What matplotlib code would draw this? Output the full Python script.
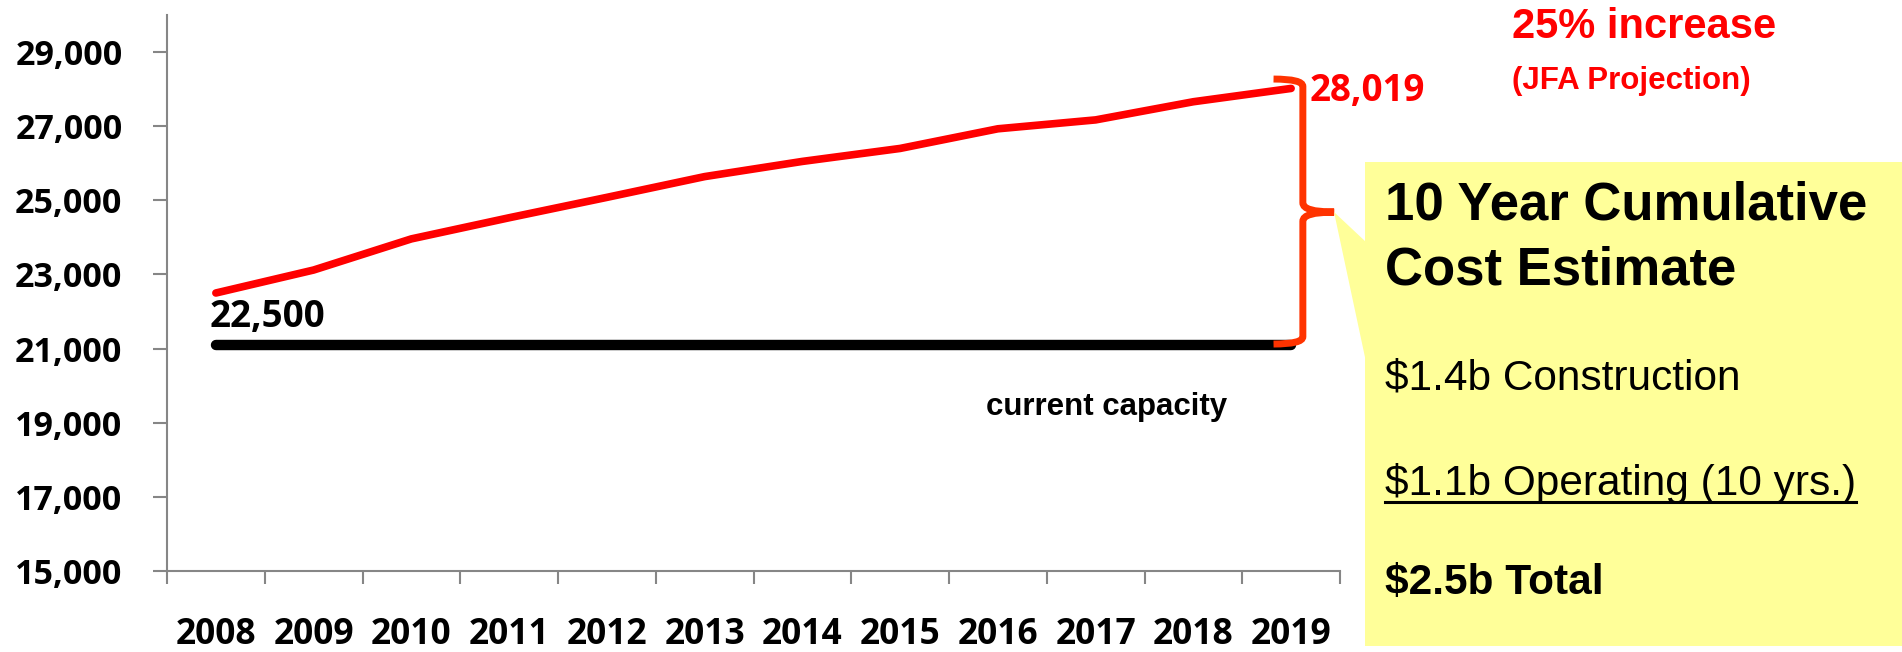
import numpy as np
import matplotlib.pyplot as plt
from matplotlib.path import Path
from matplotlib.patches import PathPatch, Polygon, Rectangle

# ---- Data ----
years = [2008, 2009, 2010, 2011, 2012, 2013, 2014, 2015, 2016, 2017, 2018, 2019]
projected = [22500, 23120, 23960, 24530, 25080, 25640, 26050, 26400, 26930, 27170, 27660, 28019]
capacity = [21100, 21100, 21100, 21100, 21100, 21100, 21100, 21100, 21100, 21100, 21100, 21100]
y_ticks = [15000, 17000, 19000, 21000, 23000, 25000, 27000, 29000]

W, H = 1902, 652
def fx(px):
    return px / W
def fy(py):
    return 1 - py / H

num_font = 'Open Sans'

fig = plt.figure(figsize=(W / 100, H / 100), dpi=100)
ax = fig.add_axes([fx(167), fy(571), fx(1340) - fx(167), fy(15) - fy(571)])

x = np.arange(len(years))
ax.plot(x, capacity, color='black', lw=7.5, solid_capstyle='round', zorder=3)
ax.plot(x, projected, color='red', lw=5.5, solid_capstyle='round', zorder=3)

ax.set_xlim(-0.5, len(years) - 0.5)
ax.set_ylim(15000, 30000)

# ---- Axes styling ----
axis_grey = '#868686'
for s in ['top', 'right']:
    ax.spines[s].set_visible(False)
for s in ['left', 'bottom']:
    ax.spines[s].set_color(axis_grey)
    ax.spines[s].set_linewidth(1.5)

ax.set_yticks(y_ticks)
ax.set_yticklabels([f"{v:,}" for v in y_ticks], fontfamily=num_font, fontweight='bold', fontsize=24.5)
ax.tick_params(axis='y', direction='out', length=10, width=1.5, color=axis_grey, pad=22)

ax.set_xticks(np.arange(-0.5, len(years), 1))
ax.set_xticklabels([])
ax.tick_params(axis='x', which='major', direction='out', length=9, width=1.5, color=axis_grey)
ax.set_xticks(x, minor=True)
ax.set_xticklabels([str(y) for y in years], minor=True, fontfamily=num_font, fontweight='bold', fontsize=25.5)
ax.tick_params(axis='x', which='minor', length=0, pad=33)

# ---- Labels on the chart ----
ax.text(-0.06, 22500 - 1150, f"{projected[0]:,}", fontfamily=num_font, fontweight='bold',
        fontsize=26.5, ha='left', va='bottom', zorder=4)
ax.text(11.19, projected[-1] - 60, f"{projected[-1]:,}", fontfamily=num_font, fontweight='bold',
        fontsize=26.5, color='red', ha='left', va='center', clip_on=False)
fig.text(fx(986), fy(407), "current capacity", fontfamily='Liberation Sans', fontweight='bold',
         fontsize=22.5, ha='left', va='center')

# ---- Brace between capacity and projection ----
brace_col = '#FF3300'
top, bot, mid = 28272, 21123, 24684
bx, lx, tx = 11.12, 10.82, 11.44
verts = [(lx, top), (bx, top), (bx, top - 200), (bx, mid + 250),
         (bx, mid), (tx, mid),
         (bx, mid), (bx, mid - 250), (bx, bot + 200),
         (bx, bot), (lx, bot)]
codes = [Path.MOVETO, Path.CURVE3, Path.CURVE3, Path.LINETO,
         Path.CURVE3, Path.CURVE3,
         Path.CURVE3, Path.CURVE3, Path.LINETO,
         Path.CURVE3, Path.CURVE3]
ax.add_patch(PathPatch(Path(verts, codes), facecolor='none', edgecolor=brace_col,
                       lw=5, clip_on=False, zorder=5, capstyle='butt'))

# ---- Callout box ----
box_col = '#FFFF99'
fig.patches.append(Rectangle((fx(1365), fy(646)), fx(1902) - fx(1365), fy(162) - fy(646),
                             transform=fig.transFigure, facecolor=box_col, edgecolor='none'))
fig.patches.append(Polygon([(fx(1334), fy(212)), (fx(1366), fy(242)), (fx(1366), fy(362))],
                           closed=True, transform=fig.transFigure, facecolor=box_col, edgecolor='none'))

fig.text(fx(1385), fy(206), "10 Year Cumulative", fontfamily='Liberation Sans', fontweight='bold',
         fontsize=38, ha='left', va='center')
fig.text(fx(1385), fy(271), "Cost Estimate", fontfamily='Liberation Sans', fontweight='bold',
         fontsize=38, ha='left', va='center')
fig.text(fx(1385), fy(379), "$1.4b Construction", fontfamily='Liberation Sans',
         fontsize=30.5, ha='left', va='center')
fig.text(fx(1385), fy(483), "$1.1b Operating (10 yrs.)", fontfamily='Liberation Sans',
         fontsize=30.5, ha='left', va='center')
fig.add_artist(plt.Line2D([fx(1385), fx(1856)], [fy(502), fy(502)], color='black', lw=2.2))
fig.text(fx(1385), fy(583), "$2.5b Total", fontfamily='Liberation Sans', fontweight='bold',
         fontsize=30.5, ha='left', va='center')

# ---- Headline ----
fig.text(fx(1512), fy(27), "25% increase", fontfamily='Liberation Sans', fontweight='bold',
         fontsize=30, color='red', ha='left', va='center')
fig.text(fx(1512), fy(81), "(JFA Projection)", fontfamily='Liberation Sans', fontweight='bold',
         fontsize=22.5, color='red', ha='left', va='center')

fig.savefig('out.png', dpi=100)
